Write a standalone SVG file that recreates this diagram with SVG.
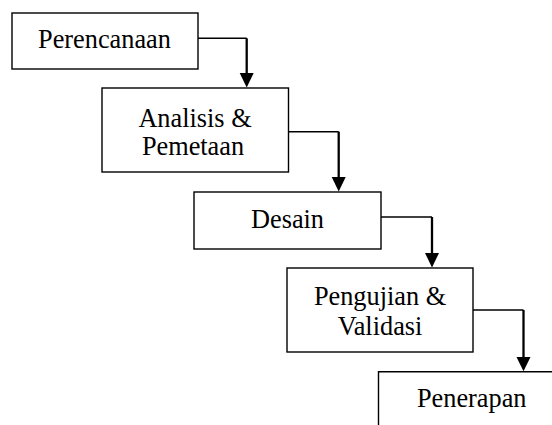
<svg xmlns="http://www.w3.org/2000/svg" width="552" height="425" viewBox="0 0 552 425">
<defs>
<style>
.box{fill:#fff;stroke:#000;stroke-width:1.4}
.t{font-family:"Liberation Serif","Times New Roman",serif;font-size:26.3px;fill:#000;text-anchor:middle}
.h{fill:none;stroke:#000;stroke-width:1.4}
.v{fill:none;stroke:#000;stroke-width:2.3}
</style>
<marker id="ah" viewBox="0 0 14 14" markerWidth="14" markerHeight="14" refX="7" refY="14" orient="auto" markerUnits="userSpaceOnUse">
<path d="M0,0 L14,0 L7,14 Z" fill="#000"/>
</marker>
</defs>
<rect width="552" height="425" fill="#fff"/>
<g id="n1"><rect class="box" x="12" y="13" width="186" height="56"/><text class="t" x="104.5" y="48.3">Perencanaan</text></g>
<g id="n2"><rect class="box" x="102" y="88" width="186.5" height="84"/><text class="t" x="195" y="126.7">Analisis &amp;</text><text class="t" x="193" y="155">Pemetaan</text></g>
<g id="n3"><rect class="box" x="194" y="192" width="187" height="57"/><text class="t" x="287.5" y="228.3">Desain</text></g>
<g id="n4"><rect class="box" x="287" y="268" width="186" height="84"/><text class="t" x="380" y="305">Pengujian &amp;</text><text class="t" x="380" y="335">Validasi</text></g>
<g id="n5"><path class="box" d="M378.5,425 V371.7 H552" fill="none"/><text class="t" x="471.7" y="406.7">Penerapan</text></g>
<g id="connectors">
<path class="h" d="M198,38.3 H246.7"/><path class="v" d="M246.7,38.3 V74" /><path d="M239.7,73 H253.7 L246.7,87.5 Z"/>
<path class="h" d="M288.5,131.7 H338.7"/><path class="v" d="M338.7,131.7 V178"/><path d="M331.7,177 H345.7 L338.7,191.5 Z"/>
<path class="h" d="M381,217 H432"/><path class="v" d="M432,217 V254"/><path d="M425,253 H439 L432,267.5 Z"/>
<path class="h" d="M473,310 H523.5"/><path class="v" d="M523.5,310 V358"/><path d="M516.5,357 H530.5 L523.5,371.3 Z"/>
</g>
</svg>
